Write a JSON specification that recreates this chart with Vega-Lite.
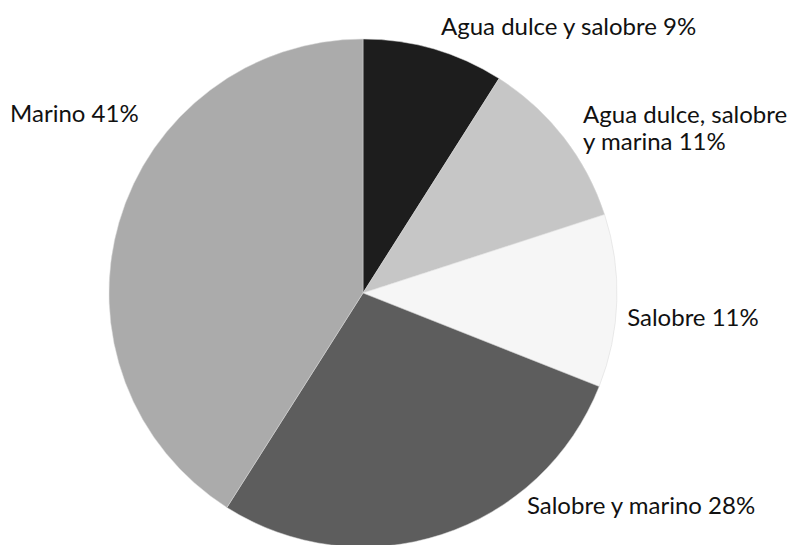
{
  "$schema": "https://vega.github.io/schema/vega-lite/v6.json",
  "width": 726,
  "height": 500,
  "autosize": {"type": "none"},
  "padding": {"left": 0, "top": 43, "right": 70, "bottom": 2},
  "background": "white",
  "config": {"view": {"stroke": null}},
  "datasets": {
    "slices": [
      {"habitat": "Agua dulce y salobre", "pct": 9, "orden": 1},
      {"habitat": "Agua dulce, salobre y marina", "pct": 11, "orden": 2},
      {"habitat": "Salobre", "pct": 11, "orden": 3},
      {"habitat": "Salobre y marino", "pct": 28, "orden": 4},
      {"habitat": "Marino", "pct": 41, "orden": 5}
    ],
    "labels": [
      {"label": ["Agua dulce y salobre 9%"], "pos": 4.67, "r": 1.061},
      {"label": ["Agua dulce, salobre", "y marina 11%"], "pos": 14.53, "r": 1.095},
      {"label": ["Salobre 11%"], "pos": 26.98, "r": 1.048},
      {"label": ["Salobre y marino 28%"], "pos": 39.84, "r": 1.083},
      {"label": ["Marino 41%"], "pos": 82.18, "r": 1.544}
    ]
  },
  "layer": [
    {
      "data": {"name": "slices"},
      "mark": {"type": "arc", "radius": 254, "stroke": "#d8d8d8", "strokeWidth": 0.5},
      "encoding": {
        "theta": {"field": "pct", "type": "quantitative", "stack": true, "scale": {"domain": [0, 100]}},
        "order": {"field": "orden", "type": "quantitative"},
        "color": {
          "field": "habitat",
          "type": "nominal",
          "legend": null,
          "scale": {
            "domain": ["Agua dulce y salobre", "Agua dulce, salobre y marina", "Salobre", "Salobre y marino", "Marino"],
            "range": ["#1d1d1d", "#c6c6c6", "#f6f6f6", "#5d5d5d", "#ababab"]
          }
        }
      }
    },
    {
      "data": {"name": "labels"},
      "mark": {"type": "text", "align": "left", "baseline": "alphabetic", "font": "Lato", "fontSize": 24, "lineHeight": 27, "color": "#111111"},
      "encoding": {
        "theta": {"field": "pos", "type": "quantitative", "stack": null},
        "radius": {"field": "r", "type": "quantitative", "scale": {"type": "linear", "domain": [0, 1], "range": [0, 254], "zero": true}},
        "text": {"field": "label"}
      }
    }
  ]
}
